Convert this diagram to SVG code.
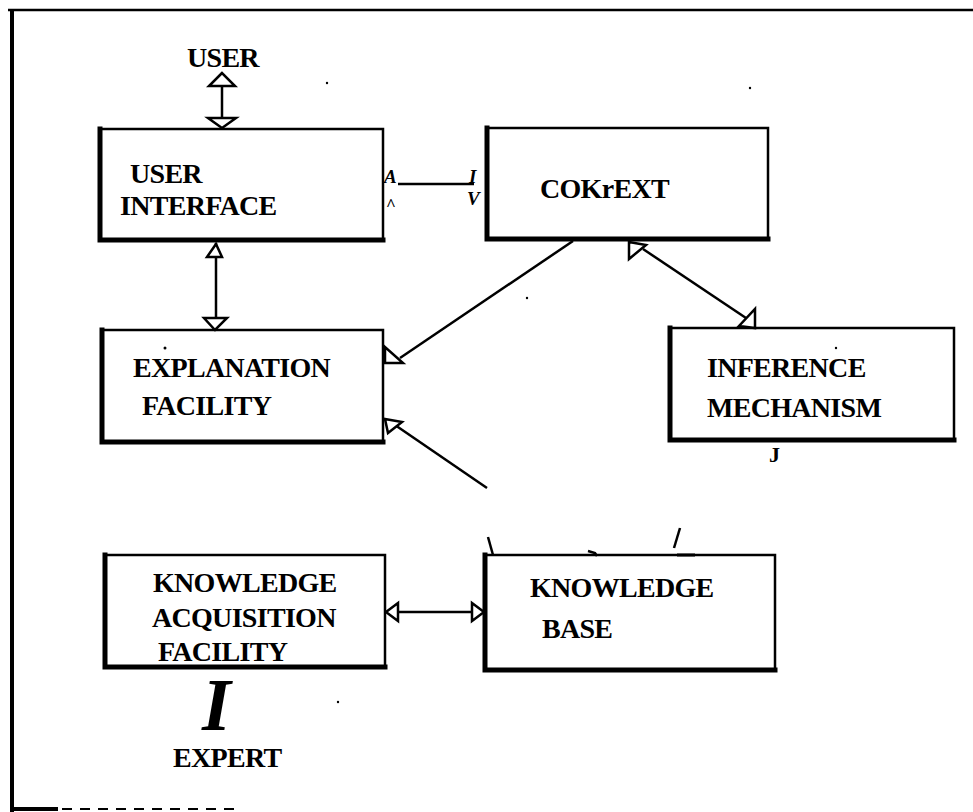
<svg xmlns="http://www.w3.org/2000/svg" width="973" height="812" viewBox="0 0 973 812">
<style>
.lbl{font-family:"Liberation Serif","Times New Roman",serif;font-weight:bold;font-size:28px;letter-spacing:-0.7px;fill:#000}
.it{font-family:"Liberation Serif","Times New Roman",serif;font-style:italic;font-weight:bold;fill:#000}
.box{fill:#fff;stroke:#000;stroke-width:2.5}
.thick{stroke:#000;stroke-width:5;fill:none;stroke-linecap:square}
.ln{stroke:#000;stroke-width:2.5;fill:none}
.hd{fill:#fff;stroke:#000;stroke-width:2.5;stroke-linejoin:miter}
.dot{fill:#000}
</style>
<rect width="973" height="812" fill="#fff"/>
<g id="frame">
<line x1="8" y1="10" x2="973" y2="10" stroke="#000" stroke-width="2.5"/>
<line x1="12" y1="9" x2="12" y2="812" stroke="#000" stroke-width="4"/>
<line x1="12" y1="809" x2="58" y2="809" stroke="#000" stroke-width="4"/>
<line x1="62" y1="809" x2="240" y2="809" stroke="#000" stroke-width="2" stroke-dasharray="10 8"/>
</g>
<g id="user">
<text class="lbl" x="187" y="67">USER</text>
</g>
<g id="user-interface">
<rect class="box" x="100" y="129" width="283" height="111"/>
<polyline class="thick" points="100,129 100,240 383,240"/>
<text class="lbl" x="130" y="183">USER</text>
<text class="lbl" x="120" y="215">INTERFACE</text>
</g>
<g id="context">
<rect class="box" x="487" y="128" width="281" height="111"/>
<polyline class="thick" points="487,128 487,239 768,239"/>
<text class="lbl" x="540" y="198">COKrEXT</text>
</g>
<g id="explanation-facility">
<rect class="box" x="102" y="330" width="281" height="112"/>
<polyline class="thick" points="102,330 102,442 383,442"/>
<text class="lbl" x="133" y="377">EXPLANATION</text>
<text class="lbl" x="142" y="415">FACILITY</text>
<circle class="dot" cx="165" cy="348" r="1.5"/>
</g>
<g id="inference-mechanism">
<rect class="box" x="670" y="328" width="284" height="112"/>
<polyline class="thick" points="670,328 670,440 954,440"/>
<text class="lbl" x="707" y="377">INFERENCE</text>
<text class="lbl" x="707" y="417">MECHANISM</text>
<text class="lbl" x="769" y="462" style="font-size:22px">J</text>
</g>
<g id="knowledge-acquisition-facility">
<rect class="box" x="105" y="555" width="280" height="112"/>
<polyline class="thick" points="105,555 105,667 385,667"/>
<text class="lbl" x="153" y="592">KNOWLEDGE</text>
<text class="lbl" x="152" y="627">ACQUISITION</text>
<text class="lbl" x="158" y="661">FACILITY</text>
</g>
<g id="knowledge-base">
<rect class="box" x="485" y="555" width="290" height="115"/>
<polyline class="thick" points="485,555 485,670 775,670"/>
<text class="lbl" x="530" y="597">KNOWLEDGE</text>
<text class="lbl" x="542" y="638">BASE</text>
</g>
<g id="expert">
<text class="lbl" x="173" y="767">EXPERT</text>
</g>
<g id="connectors">
<line class="ln" x1="222" y1="74" x2="222" y2="128"/>
<polygon class="hd" points="222,73 209,86 235,86"/>
<polygon class="hd" points="208,118 236,118 222,128"/>
<line class="ln" x1="398" y1="184" x2="474" y2="184"/>
<text class="it" x="384" y="183" style="font-size:19px">A</text>
<text class="it" x="386" y="210" style="font-size:17px;font-style:normal">^</text>
<text class="it" x="469" y="183" style="font-size:19px">I</text>
<text class="it" x="467" y="205" style="font-size:19px">V</text>
<line class="ln" x1="216" y1="243" x2="216" y2="330"/>
<polygon class="hd" points="216,244 207,257 222,257"/>
<polygon class="hd" points="204,318 227,318 215,330"/>
<line class="ln" x1="573" y1="241" x2="400" y2="358"/>
<polygon class="hd" points="385,347 385,363 403,363"/>
<line class="ln" x1="395" y1="425" x2="487" y2="488"/>
<polygon class="hd" points="385,419 402,422 388,433"/>
<line class="ln" x1="643" y1="249" x2="746" y2="318"/>
<polygon class="hd" points="629,242 629,259 646,245"/>
<polygon class="hd" points="755,309 755,328 739,326"/>
<line class="ln" x1="488" y1="537" x2="493" y2="555"/>
<polyline class="ln" points="588,551 595,553 597,556" stroke-width="2"/>
<line class="ln" x1="680" y1="528" x2="674" y2="548"/>
<line x1="677" y1="555" x2="695" y2="555" stroke="#000" stroke-width="3"/>
<line class="ln" x1="386" y1="612" x2="485" y2="612"/>
<polygon class="hd" points="386,612 398,603 398,621"/>
<polygon class="hd" points="484,612 472,603 472,621"/>
<text class="it" x="202" y="730" style="font-size:74px">I</text>
</g>
<g id="specks">
<circle class="dot" cx="327" cy="83" r="1.2"/>
<circle class="dot" cx="750" cy="88" r="1.2"/>
<circle class="dot" cx="527" cy="298" r="1.2"/>
<circle class="dot" cx="836" cy="348" r="1.2"/>
<circle class="dot" cx="338" cy="702" r="1.2"/>
</g>
</svg>
